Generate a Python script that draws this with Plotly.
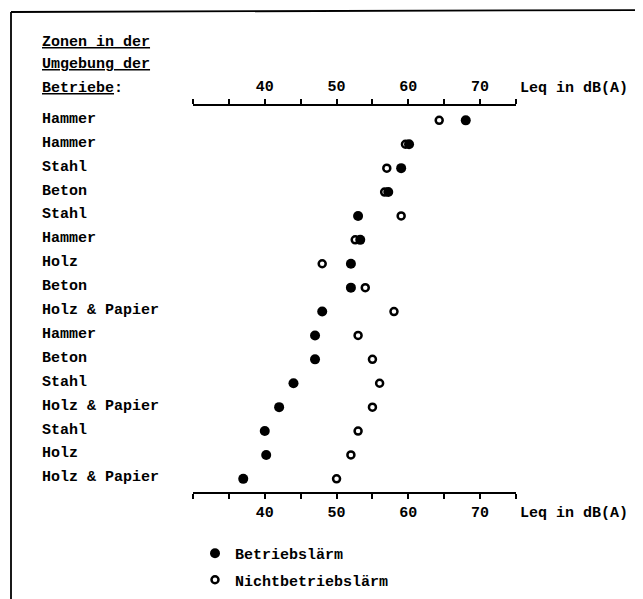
import plotly.graph_objects as go

# ---- data ----
categories = ["Hammer", "Hammer", "Stahl", "Beton", "Stahl", "Hammer", "Holz", "Beton",
              "Holz & Papier", "Hammer", "Beton", "Stahl", "Holz & Papier", "Stahl",
              "Holz", "Holz & Papier"]
betriebslaerm = [68, 60.1, 59, 57.2, 53, 53.3, 52, 52, 48, 47, 47, 44, 42, 40, 40.2, 37]
nichtbetriebslaerm = [64.3, 59.6, 57, 56.7, 59, 52.6, 48, 54, 58, 53, 55, 56, 55, 53, 52, 50]
tick_values = [30, 35, 40, 45, 50, 55, 60, 65, 70, 75]
tick_labels = ["", "", "40", "", "50", "", "60", "", "70", ""]
heading = ["<u>Zonen in der</u>", "<u>Umgebung der</u>", "<u>Betriebe</u>:"]
axis_title = "Leq in dB(A)"

rows = list(range(len(categories)))

# the page puts the figure 8 px in from the top-left corner
OFF = 8
W, H = 643 - OFF, 599 - OFF
FONT = "Liberation Mono"
FS = 15
tf = dict(family=FONT, size=FS, color="black", weight="bold")

def px(x):
    return (x - OFF) / W

def py(y):
    return 1 - (y - OFF) / H

fig = go.Figure()
fig.add_trace(go.Scatter(
    x=nichtbetriebslaerm, y=rows, mode="markers", name="Nichtbetriebslärm",
    marker=dict(symbol="circle-open", size=7, color="black", line=dict(width=2.5, color="black")),
    legendgroup="b", legendrank=2, hoverinfo="x+y"))
fig.add_trace(go.Scatter(
    x=betriebslaerm, y=rows, mode="markers", name="Betriebslärm",
    marker=dict(symbol="circle", size=10, color="black"),
    legendgroup="a", legendrank=1, hoverinfo="x+y"))
# invisible trace to drive the top axis
fig.add_trace(go.Scatter(x=[min(tick_values), max(tick_values)], y=[rows[0], rows[0]],
                         xaxis="x2", mode="markers", marker=dict(opacity=0),
                         showlegend=False, hoverinfo="skip"))

axis_common = dict(
    domain=[px(193), px(516)], range=[30, 75], showline=True, linewidth=2, linecolor="black",
    ticks="outside", ticklen=5, tickwidth=1.5, tickcolor="black",
    tickvals=tick_values, ticktext=tick_labels, tickfont=tf,
    showgrid=False, zeroline=False, fixedrange=True,
)

fig.update_layout(
    width=W, height=H, margin=dict(l=0, r=0, t=0, b=0),
    paper_bgcolor="white", plot_bgcolor="white",
    xaxis=dict(**axis_common, side="bottom", anchor="y", ticklabelstandoff=0),
    xaxis2=dict(**axis_common, side="top", overlaying="x", anchor="y", ticklabelstandoff=2),
    yaxis=dict(domain=[py(492), py(106)], range=[15.55, -0.6], visible=False, fixedrange=True),
    showlegend=True,
    legend=dict(x=px(195), y=py(537), xanchor="left", yanchor="top", font=tf,
                tracegroupgap=4, bgcolor="rgba(0,0,0,0)", itemwidth=30),
)

ann = []
for i, t in enumerate(heading):
    ann.append(dict(text=t, x=px(40), y=py([42, 65, 89][i]), xref="paper", yref="paper",
                    xanchor="left", yanchor="middle", showarrow=False, font=tf))
for r, c in zip(rows, categories):
    ann.append(dict(text=c, x=px(40), y=r, xref="paper", yref="y", xanchor="left",
                    yanchor="middle", showarrow=False, font=tf, yshift=1))
ann.append(dict(text=axis_title, x=px(518), y=py(88), xref="paper", yref="paper",
                xanchor="left", yanchor="middle", showarrow=False, font=tf))
ann.append(dict(text=axis_title, x=px(518), y=py(513), xref="paper", yref="paper",
                xanchor="left", yanchor="middle", showarrow=False, font=tf))
fig.update_layout(annotations=ann)

fig.add_shape(type="line", xref="paper", yref="paper", x0=px(11), x1=px(11), y0=py(12), y1=0,
              line=dict(color="black", width=1.8))
fig.add_shape(type="line", xref="paper", yref="paper", x0=px(11), x1=1, y0=py(12), y1=py(10),
              line=dict(color="black", width=1.8))

fig.write_html("out.html")
